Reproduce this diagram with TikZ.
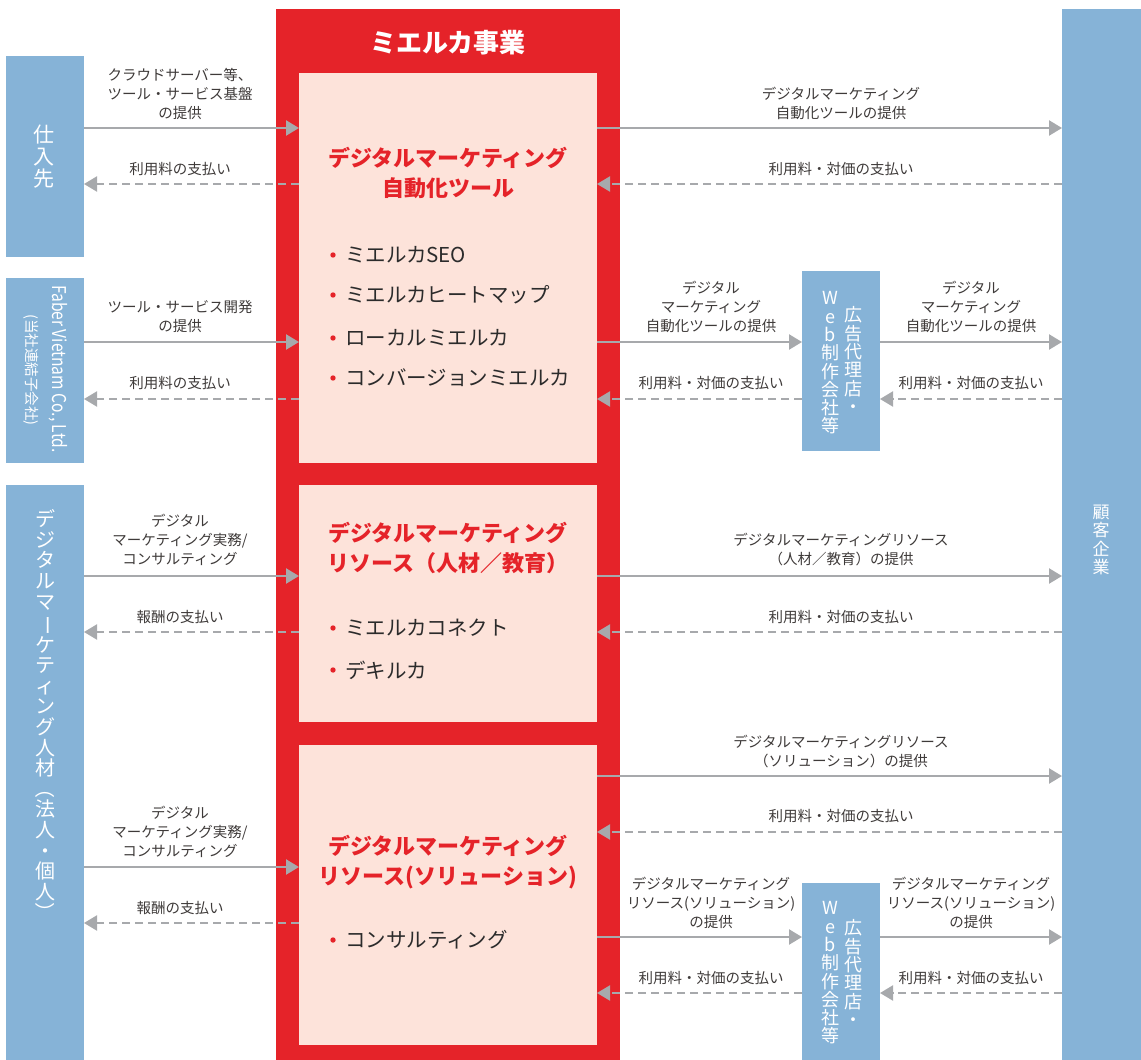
\documentclass[tikz,border=0pt]{standalone}
\usepackage{fontspec}
\usepackage{graphicx}
\setmainfont{Noto Sans CJK JP}
\usetikzlibrary{arrows.meta}
\definecolor{mred}{HTML}{E52329}
\definecolor{mpink}{HTML}{FDE3DA}
\definecolor{mblue}{HTML}{86B3D7}
\definecolor{mgrey}{HTML}{A7A9AC}
\definecolor{mtext}{HTML}{3E3A39}
\definecolor{mdark}{HTML}{2B2B2B}
\newcommand{\vchoon}{\rotatebox[origin=c]{-90}{ー}}
\newcommand{\vlparen}{\rotatebox[origin=c]{-90}{（}}
\newcommand{\vrparen}{\rotatebox[origin=c]{-90}{）}}
\begin{document}
\begin{tikzpicture}[x=1pt,y=-1pt,
  box/.style={draw=none,inner sep=0pt,outer sep=0pt,anchor=north west},
  bluebox/.style={box,fill=mblue},
  lbl/.style={align=center,text=mtext,font=\fontsize{14.5}{19}\selectfont,inner sep=0pt},
  ttl/.style={align=center,text=mred,font=\bfseries\fontsize{22}{30}\selectfont,inner sep=0pt},
  item/.style={anchor=west,text=mdark,font=\fontsize{20.5}{22}\selectfont,inner sep=0pt},
  vtext/.style={align=center,text=white,inner sep=0pt},
  sol/.style={draw=mgrey,line width=2.4pt,-{Triangle[length=13pt,width=15pt]}},
  das/.style={draw=mgrey,line width=2pt,dash pattern=on 8pt off 5pt,-{Triangle[length=13pt,width=15pt]}},
  bul/.style={fill=mred}
]
\useasboundingbox (0,0) rectangle (1141,1060);
% boxes
\node[box,fill=mred,minimum width=344pt,minimum height=1051pt] (red) at (276,9) {};
\node[box,fill=mpink,minimum width=298pt,minimum height=390pt] (p1) at (299,73) {};
\node[box,fill=mpink,minimum width=298pt,minimum height=237pt] (p2) at (299,485) {};
\node[box,fill=mpink,minimum width=298pt,minimum height=300pt] (p3) at (299,745) {};
\node[bluebox,minimum width=78pt,minimum height=201pt] (sup) at (6,56) {};
\node[bluebox,minimum width=78pt,minimum height=185pt] (fab) at (6,278) {};
\node[bluebox,minimum width=78pt,minimum height=575pt] (hum) at (6,485) {};
\node[bluebox,minimum width=79pt,minimum height=1051pt] (cli) at (1062,9) {};
\node[bluebox,minimum width=78pt,minimum height=180pt] (ag1) at (802,271) {};
\node[bluebox,minimum width=78pt,minimum height=177pt] (ag2) at (802,883) {};

% titles in boxes
\node[text=white,font=\bfseries\fontsize{26}{28}\selectfont,inner sep=0pt] (redttl) at (448,43) {ミエルカ事業};
\node[ttl] (t1) at (448,172.5) {デジタルマーケティング\\自動化ツール};
\node[ttl] (t2) at (448,548) {デジタルマーケティング\\リソース（人材／教育）};
\node[ttl] (t3) at (448,862) {デジタルマーケティング\\リソース(ソリューション)};

% items
\fill[bul] (333,255) circle (2.7pt);
\node[item] (i1) at (345,255) {ミエルカSEO};
\fill[bul] (333,295) circle (2.7pt);
\node[item] (i2) at (345,295) {ミエルカヒートマップ};
\fill[bul] (333,338) circle (2.7pt);
\node[item] (i3) at (345,338) {ローカルミエルカ};
\fill[bul] (333,378) circle (2.7pt);
\node[item] (i4) at (345,378) {コンバージョンミエルカ};
\fill[bul] (333,628) circle (2.7pt);
\node[item] (i5) at (345,628) {ミエルカコネクト};
\fill[bul] (333,670) circle (2.7pt);
\node[item] (i6) at (345,670) {デキルカ};
\fill[bul] (333,940) circle (2.7pt);
\node[item] (i7) at (345,940) {コンサルティング};

% vertical texts
\node[vtext,font=\fontsize{21}{22}\selectfont] (supt) at (44,157) {仕\\入\\先};
\node[text=white,inner sep=0pt,rotate=-90,font=\fontsize{19}{20}\selectfont] (fabt) at (58,369) {\scalebox{0.82}[1]{Faber Vietnam Co., Ltd.}};
\node[text=white,inner sep=0pt,rotate=-90,font=\fontsize{14.5}{15}\selectfont] (fabs) at (31,370) {(当社連結子会社)};
\node[vtext,font=\fontsize{20}{20.6}\selectfont] (humt) at (45,716) {デ\\ジ\\タ\\ル\\マ\\\vchoon\\ケ\\テ\\ィ\\ン\\グ\\人\\材\\\vlparen\\法\\人\\・\\個\\人\\\vrparen};
\node[vtext,font=\fontsize{17}{18.5}\selectfont] (clit) at (1101,540) {顧\\客\\企\\業};
\node[vtext,font=\fontsize{18}{18.3}\selectfont] (ag1r) at (853,360) {広\\告\\代\\理\\店\\・};
\node[vtext,font=\fontsize{18}{18.3}\selectfont] (ag1l) at (830,363) {W\\e\\b\\制\\作\\会\\社\\等};
\node[vtext,font=\fontsize{18}{18.3}\selectfont] (ag2r) at (853,973) {広\\告\\代\\理\\店\\・};
\node[vtext,font=\fontsize{18}{18.3}\selectfont] (ag2l) at (830,973) {W\\e\\b\\制\\作\\会\\社\\等};

% left labels
\node[lbl] (l1) at (180,94) {クラウドサーバー等、\\ツール・サービス基盤\\の提供};
\node[lbl] (l2) at (180,169) {利用料の支払い};
\node[lbl] (l3) at (180,317) {ツール・サービス開発\\の提供};
\node[lbl] (l4) at (180,383) {利用料の支払い};
\node[lbl] (l5) at (180,540) {デジタル\\マーケティング実務/\\コンサルティング};
\node[lbl] (l6) at (180,617) {報酬の支払い};
\node[lbl] (l7) at (180,832) {デジタル\\マーケティング実務/\\コンサルティング};
\node[lbl] (l8) at (180,908) {報酬の支払い};
% right labels
\node[lbl] (r1) at (841,103) {デジタルマーケティング\\自動化ツールの提供};
\node[lbl] (r2) at (841,169) {利用料・対価の支払い};
\node[lbl] (r3) at (711,307) {デジタル\\マーケティング\\自動化ツールの提供};
\node[lbl] (r4) at (971,307) {デジタル\\マーケティング\\自動化ツールの提供};
\node[lbl] (r5) at (711,383) {利用料・対価の支払い};
\node[lbl] (r6) at (971,383) {利用料・対価の支払い};
\node[lbl] (r7) at (841,550) {デジタルマーケティングリソース\\（人材／教育）の提供};
\node[lbl] (r8) at (841,617) {利用料・対価の支払い};
\node[lbl] (r9) at (841,752) {デジタルマーケティングリソース\\（ソリューション）の提供};
\node[lbl] (r10) at (841,816) {利用料・対価の支払い};
\node[lbl] (r11) at (711,903) {デジタルマーケティング\\リソース(ソリューション)\\の提供};
\node[lbl] (r12) at (971,903) {デジタルマーケティング\\リソース(ソリューション)\\の提供};
\node[lbl] (r13) at (711,978) {利用料・対価の支払い};
\node[lbl] (r14) at (971,978) {利用料・対価の支払い};

% left arrows
\draw[sol] (sup.east |- 0,128) -- (p1.west |- 0,128);
\draw[das] (p1.west |- 0,184) -- (sup.east |- 0,184);
\draw[sol] (fab.east |- 0,342) -- (p1.west |- 0,342);
\draw[das] (p1.west |- 0,399) -- (fab.east |- 0,399);
\draw[sol] (hum.east |- 0,576) -- (p2.west |- 0,576);
\draw[das] (p2.west |- 0,632) -- (hum.east |- 0,632);
\draw[sol] (hum.east |- 0,867) -- (p3.west |- 0,867);
\draw[das] (p3.west |- 0,923) -- (hum.east |- 0,923);
% right arrows
\draw[sol] (p1.east |- 0,128) -- (cli.west |- 0,128);
\draw[das] (cli.west |- 0,184) -- (p1.east |- 0,184);
\draw[sol] (p1.east |- 0,342) -- (ag1.west |- 0,342);
\draw[sol] (ag1.east |- 0,342) -- (cli.west |- 0,342);
\draw[das] (ag1.west |- 0,399) -- (p1.east |- 0,399);
\draw[das] (cli.west |- 0,399) -- (ag1.east |- 0,399);
\draw[sol] (p2.east |- 0,576) -- (cli.west |- 0,576);
\draw[das] (cli.west |- 0,632) -- (p2.east |- 0,632);
\draw[sol] (p3.east |- 0,776) -- (cli.west |- 0,776);
\draw[das] (cli.west |- 0,832) -- (p3.east |- 0,832);
\draw[sol] (p3.east |- 0,937) -- (ag2.west |- 0,937);
\draw[sol] (ag2.east |- 0,937) -- (cli.west |- 0,937);
\draw[das] (ag2.west |- 0,993) -- (p3.east |- 0,993);
\draw[das] (cli.west |- 0,993) -- (ag2.east |- 0,993);
\end{tikzpicture}
\end{document}
